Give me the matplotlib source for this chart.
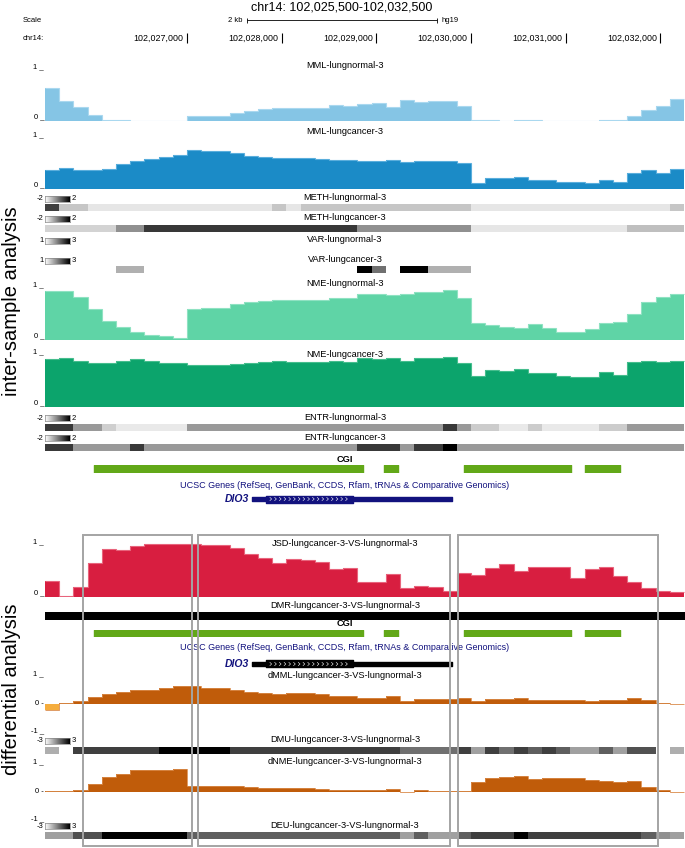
import numpy as np
import matplotlib
matplotlib.use('Agg')
import matplotlib.pyplot as plt
from matplotlib.colors import LinearSegmentedColormap, Normalize
from matplotlib.patches import Rectangle

plt.rcParams['font.family'] = ['Liberation Sans', 'DejaVu Sans']
nan = np.nan

# ---- data: 45 bins of 150 bp starting at chr14:102,025,500 ----
X0 = 102025500
BIN = 150
NBIN = 45
TICKS = [102027000, 102028000, 102029000, 102030000, 102031000, 102032000]

MML_N = [0.62, 0.37, 0.26, 0.11, 0.02, 0.02, 0.005, 0.005, 0.005, 0.005,
         0.095, 0.10, 0.10, 0.15, 0.19, 0.23, 0.25, 0.24, 0.24, 0.24,
         0.30, 0.29, 0.32, 0.34, 0.26, 0.40, 0.365, 0.38, 0.38, 0.28,
         0.02, 0.02, 0.005, 0.025, 0.025, 0.005, 0.005, 0.005, 0.005, 0.025,
         0.025, 0.10, 0.20, 0.28, 0.415]
MML_C = [0.36, 0.39, 0.36, 0.36, 0.38, 0.47, 0.53, 0.57, 0.60, 0.65,
         0.74, 0.71, 0.71, 0.67, 0.62, 0.60, 0.58, 0.585, 0.585, 0.57,
         0.55, 0.55, 0.535, 0.535, 0.54, 0.51, 0.52, 0.52, 0.52, 0.485,
         0.12, 0.21, 0.21, 0.22, 0.17, 0.17, 0.14, 0.14, 0.11, 0.17,
         0.13, 0.31, 0.35, 0.31, 0.37]
NME_N = [0.90, 0.90, 0.79, 0.57, 0.35, 0.25, 0.14, 0.09, 0.075, 0.04,
         0.57, 0.59, 0.59, 0.66, 0.70, 0.72, 0.75, 0.74, 0.74, 0.75,
         0.78, 0.77, 0.86, 0.85, 0.83, 0.85, 0.88, 0.88, 0.93, 0.78,
         0.31, 0.27, 0.24, 0.22, 0.30, 0.23, 0.15, 0.14, 0.20, 0.31,
         0.33, 0.49, 0.70, 0.80, 0.85]
NME_C = [0.88, 0.90, 0.85, 0.82, 0.82, 0.85, 0.89, 0.85, 0.82, 0.82,
         0.77, 0.78, 0.78, 0.80, 0.82, 0.84, 0.85, 0.84, 0.84, 0.84,
         0.85, 0.84, 0.90, 0.89, 0.90, 0.86, 0.90, 0.90, 0.93, 0.82,
         0.58, 0.69, 0.66, 0.70, 0.63, 0.63, 0.58, 0.55, 0.55, 0.65,
         0.60, 0.84, 0.86, 0.83, 0.85]
JSD = [0.29, 0.01, 0.18, 0.63, 0.89, 0.87, 0.94, 0.975, 0.975, 0.975,
       0.975, 0.97, 0.97, 0.91, 0.80, 0.72, 0.63, 0.70, 0.68, 0.64,
       0.51, 0.54, 0.28, 0.27, 0.43, 0.16, 0.21, 0.18, 0.11, 0.44,
       0.41, 0.54, 0.62, 0.48, 0.56, 0.56, 0.56, 0.35, 0.51, 0.56,
       0.38, 0.28, 0.17, 0.12, 0.10]
DMML = [-0.24, 0.01, 0.09, 0.24, 0.34, 0.41, 0.47, 0.49, 0.56, 0.62,
        0.61, 0.56, 0.56, 0.47, 0.41, 0.38, 0.34, 0.36, 0.36, 0.34,
        0.26, 0.26, 0.21, 0.18, 0.26, 0.09, 0.15, 0.15, 0.15, 0.20,
        0.09, 0.16, 0.16, 0.18, 0.14, 0.14, 0.11, 0.11, 0.08, 0.14,
        0.14, 0.20, 0.13, 0.005, -0.02]
DNME = [0.01, 0.01, 0.06, 0.26, 0.51, 0.61, 0.77, 0.77, 0.77, 0.79,
        0.21, 0.20, 0.20, 0.18, 0.16, 0.14, 0.12, 0.12, 0.12, 0.10,
        0.06, 0.04, 0.04, 0.04, 0.09, 0.0, 0.05, 0.01, 0.01, 0.01,
        0.34, 0.49, 0.51, 0.54, 0.43, 0.49, 0.49, 0.49, 0.41, 0.38,
        0.34, 0.38, 0.16, 0.04, 0.0]

METH_N = [1.0, -1.1, -1.1, -1.6, -1.6, -1.6, -1.6, -1.6, -1.6, -1.6,
          -1.6, -1.6, -1.6, -1.6, -1.6, -1.6, -1.1, -1.6, -1.1, -1.1,
          -1.1, -1.1, -1.1, -1.1, -1.1, -1.1, -1.1, -1.1, -1.1, -1.1,
          -1.6, -1.6, -1.6, -1.6, -1.6, -1.6, -1.6, -1.6, -1.6, -1.6,
          -1.6, -1.6, -1.6, -1.6, -1.1]
METH_C = [-1.3, -1.3, -1.3, -1.3, -1.3, -0.26, -0.26, 1.12, 1.12, 1.12,
          1.12, 1.12, 1.12, 1.12, 1.12, 1.12, 1.12, 1.12, 1.12, 1.12,
          1.12, 1.12, -0.26, -0.26, -0.26, -0.26, -0.26, -0.26, -0.26, -0.26,
          -1.6, -1.6, -1.6, -1.6, -1.6, -1.6, -1.6, -1.6, -1.6, -1.6,
          -1.6, -1.0, -1.0, -1.0, -1.0]
VAR_N = [nan] * NBIN
VAR_C = [nan, nan, nan, nan, nan, 1.62, 1.62, nan, nan, nan,
         nan, nan, nan, nan, nan, nan, nan, nan, nan, nan,
         nan, nan, 3.0, 2.12, nan, 3.0, 3.0, 1.62, 1.62, 1.62,
         nan, nan, nan, nan, nan, nan, nan, nan, nan, nan,
         nan, nan, nan, nan, nan]
ENTR_N = [1.1, 1.1, -0.4, -0.4, -1.25, -1.65, -1.65, -1.65, -1.65, -1.65,
          -0.4, -0.4, -0.4, -0.4, -0.4, -0.4, -0.4, -0.4, -0.4, -0.4,
          -0.4, -0.4, -0.4, -0.4, -0.4, -0.4, -0.4, -0.4, 1.1, -0.4,
          -1.2, -1.2, -1.65, -1.65, -1.2, -1.65, -1.65, -1.65, -1.65, -1.2,
          -1.2, -0.4, -0.4, -0.4, -0.4]
ENTR_C = [1.1, 1.1, -0.4, -0.4, -0.4, -0.4, 1.1, -0.4, -0.4, -0.4,
          -0.4, -0.4, -0.4, -0.4, -0.4, -0.4, -0.4, -0.4, -0.4, -0.4,
          -0.4, -0.4, 1.1, 1.1, 1.1, -0.4, 1.1, 1.1, 2.0, -0.4,
          -0.4, -0.4, -0.4, -0.4, -0.4, -0.4, -0.4, -0.4, -0.4, -0.4,
          -0.4, -0.4, -0.4, -0.4, -0.4]
DMU = [-1.1, nan, 1.5, 1.5, 1.5, 1.5, 1.5, 1.5, 3.0, 3.0,
       3.0, 3.0, 3.0, 1.5, 1.5, 1.5, 1.5, 1.5, 1.5, 1.5,
       1.5, 1.5, 1.5, 1.5, 1.5, 0.36, 0.36, 0.36, 0.36, 1.5,
       -0.76, 1.5, 0.36, 1.5, 0.75, 1.5, 0.75, -0.76, -0.76, 0.75,
       -0.76, 1.1, 1.1, nan, -1.1]
DEU = [-0.76, -0.76, 1.12, 1.12, 3.0, 3.0, 3.0, 3.0, 3.0, 3.0,
       0.75, 0.75, 0.75, 0.75, 0.75, 0.75, 0.75, 0.75, 0.75, 0.75,
       0.75, 0.75, 0.75, 0.75, 0.75, -0.76, 0.75, -0.76, -0.76, 0.75,
       1.5, 1.5, 1.5, 3.0, 1.5, 1.5, 1.5, 1.5, 1.5, 1.5,
       1.5, 1.5, 0.75, -0.39, -0.76]

CGI = [(102026018, 102028859), (102029081, 102029229),
       (102029926, 102031056), (102031204, 102031574)]
DIO3_TX = (102027688, 102029799)
DIO3_CDS = (102027834, 102028753)
DMR = (102025500, 102032260)
BOXES = [(102025901, 102027053), (102027116, 102029778), (102029863, 102031975)]

# ---- layout in pixels ----
W, H = 685, 848
LEFT, RIGHT = 45, 685
PX_PER_BP = 14.2 / 150
edges = X0 + BIN * np.arange(NBIN + 1)
grey_cmap = LinearSegmentedColormap.from_list('wb', ['white', 'black'])
NAVY = '#12127e'

fig = plt.figure(figsize=(W / 100, H / 100), dpi=100)


def fx(x):
    return x / W


def fy(y):
    return 1 - y / H


def add_track(y0, y1, ylim=(0, 1)):
    ax = fig.add_axes([fx(LEFT), fy(y1), (RIGHT - LEFT) / W, (y1 - y0) / H])
    ax.set_xlim(X0, X0 + (RIGHT - LEFT) / PX_PER_BP)
    ax.set_ylim(*ylim)
    ax.axis('off')
    return ax


def label(y, s, x=345, **kw):
    fig.text(fx(x), fy(y), s, ha='center', va='center', fontsize=6.7, **kw)


def ytext(y, s):
    fig.text(fx(44), fy(y), s, ha='right', va='center', fontsize=5.5)


def signal(y0, y1, vals, color, edge, name, name_y):
    ax = add_track(y0, y1)
    ax.bar(edges[:-1], vals, width=BIN, align='edge', color=color, linewidth=0)
    ax.stairs(vals, edges, color=edge, lw=0.8, baseline=None)
    ytext(y0 - 1, '1 _')
    ytext(y1 - 4, '0 _')
    label(name_y, name)


def diff_signal(y0, y1, vals, name, name_y):
    ax = add_track(y0, y1, ylim=(-1, 1))
    v = np.array(vals)
    cols = np.where(v >= 0, '#c05c0a', '#f5ad3d')
    ax.bar(edges[:-1], v, width=BIN, align='edge', color=cols, linewidth=0)
    ax.stairs(v, edges, color='#d98a4a', lw=0.6, baseline=None)
    ym = (y0 + y1) / 2
    ytext(y0 - 1, '1 _')
    ytext(ym, '0 -')
    ytext(y1 - 1, '-1 _')
    label(name_y, name)


def scale_key(y, lo, hi):
    kax = fig.add_axes([fx(45), fy(y + 3), 25 / W, 6 / H])
    kax.imshow(np.linspace(0, 1, 64)[None, :], aspect='auto', cmap=grey_cmap)
    kax.set_xticks([])
    kax.set_yticks([])
    for sp in kax.spines.values():
        sp.set_color('#888888')
        sp.set_linewidth(0.5)
    fig.text(fx(43.5), fy(y), lo, ha='right', va='center', fontsize=5.5)
    fig.text(fx(71.5), fy(y), hi, ha='left', va='center', fontsize=5.5)


def heat(y0, y1, vals, vmin, vmax, name, name_y, key_y):
    ax = add_track(y0, y1)
    v = np.array(vals, dtype=float)
    ok = ~np.isnan(v)
    norm = Normalize(vmin, vmax)
    ax.bar(edges[:-1][ok], 1, width=BIN, align='edge',
           color=grey_cmap(norm(v[ok])), linewidth=0)
    scale_key(key_y, f'{vmin:g}', f'{vmax:g}')
    label(name_y, name)


def cgi_track(y0, y1, name_y):
    ax = add_track(y0, y1)
    ax.broken_barh([(s, e - s) for s, e in CGI], (0, 1), color='#62a818')
    label(name_y, 'CGI', weight='bold')


def gene_track(yc, bar_color, title_y):
    ax = add_track(yc - 5, yc + 5, ylim=(-5, 5))
    ax.broken_barh([(DIO3_TX[0], DIO3_TX[1] - DIO3_TX[0])], (-2, 4), color=bar_color)
    ax.broken_barh([(DIO3_CDS[0], DIO3_CDS[1] - DIO3_CDS[0])], (-3.5, 7), color=bar_color)
    for xc in np.arange(DIO3_CDS[0] + 60, DIO3_CDS[1] - 20, 50):
        ax.plot([xc - 18, xc, xc - 18], [1.6, 0, -1.6], color='white', lw=0.4)
    fig.text(fx(249), fy(yc), 'DIO3', ha='right', va='center', fontsize=7.5,
             style='italic', weight='bold', color=NAVY)
    fig.text(fx(345), fy(title_y),
             'UCSC Genes (RefSeq, GenBank, CCDS, Rfam, tRNAs & Comparative Genomics)',
             ha='center', va='center', fontsize=6.5, color=NAVY)


# ---- header ----
fig.text(fx(342), fy(8), 'chr14: 102,025,500-102,032,500', ha='center', va='center', fontsize=9)
fig.text(fx(23), fy(20), 'Scale', va='center', fontsize=5.5)
fig.text(fx(23), fy(38), 'chr14:', va='center', fontsize=5.5)
hdr = add_track(14, 46, ylim=(46, 14))
mid = X0 + (342 - LEFT) / PX_PER_BP
hdr.hlines(20, mid - 1000, mid + 1000, color='black', lw=0.6)
hdr.vlines([mid - 1000, mid + 1000], 17.5, 22.5, color='black', lw=0.6)
hdr.text(mid - 1050, 20, '2 kb', ha='right', va='center', fontsize=5.5)
hdr.text(mid + 1050, 20, 'hg19', ha='left', va='center', fontsize=5.5)
hdr.vlines(TICKS, 33, 43, color='black', lw=0.8)
for t in TICKS:
    hdr.text(t - 35, 38, f'{t:,}', ha='right', va='center', fontsize=6.4)

# ---- inter-sample analysis ----
signal(68, 121, MML_N, '#85c5e5', '#aad8ef', 'MML-lungnormal-3', 65)
signal(136, 189, MML_C, '#1b8bc7', '#5aaedc', 'MML-lungcancer-3', 132)
heat(204, 211, METH_N, -2, 2, 'METH-lungnormal-3', 197, 199)
heat(225, 232, METH_C, -2, 2, 'METH-lungcancer-3', 218, 219)
heat(246, 253, VAR_N, 1, 3, 'VAR-lungnormal-3', 240, 241)
heat(266, 273, VAR_C, 1, 3, 'VAR-lungcancer-3', 260, 261)
signal(286, 340, NME_N, '#5fd4a6', '#8fe2c2', 'NME-lungnormal-3', 284)
signal(353, 407, NME_C, '#0ca46c', '#45bd8d', 'NME-lungcancer-3', 354)
heat(424, 431, ENTR_N, -2, 2, 'ENTR-lungnormal-3', 417, 418)
heat(444, 451, ENTR_C, -2, 2, 'ENTR-lungcancer-3', 437, 438)
cgi_track(465, 473, 459)
gene_track(499, NAVY, 485)

# ---- differential analysis ----
signal(543, 597, JSD, '#d81e40', '#e8647c', 'JSD-lungcancer-3-VS-lungnormal-3', 544)
dmr = add_track(612, 619)
dmr.broken_barh([(DMR[0], DMR[1] - DMR[0])], (0, 1), color='black')
label(605, 'DMR-lungcancer-3-VS-lungnormal-3')
cgi_track(630, 637, 624)
gene_track(664, 'black', 648)
diff_signal(675, 732, DMML, 'dMML-lungcancer-3-VS-lungnormal-3', 676)
heat(747, 754, DMU, -3, 3, 'DMU-lungcancer-3-VS-lungnormal-3', 740, 741)
diff_signal(763, 820, DNME, 'dNME-lungcancer-3-VS-lungnormal-3', 761)
heat(832, 839, DEU, -3, 3, 'DEU-lungcancer-3-VS-lungnormal-3', 825, 826)

# highlight boxes
box_ax = add_track(535, 846)
box_ax.set_zorder(10)
for s, e in BOXES:
    box_ax.add_patch(Rectangle((s, 0), e - s, 1, fill=False, ec='#a4a4a4', lw=1.4, clip_on=False))

fig.text(fx(12), fy(301), 'inter-sample analysis', rotation=90, ha='center', va='center', fontsize=14.5)
fig.text(fx(12), fy(689), 'differential analysis', rotation=90, ha='center', va='center', fontsize=14.5)

fig.savefig('out.png', dpi=100)
